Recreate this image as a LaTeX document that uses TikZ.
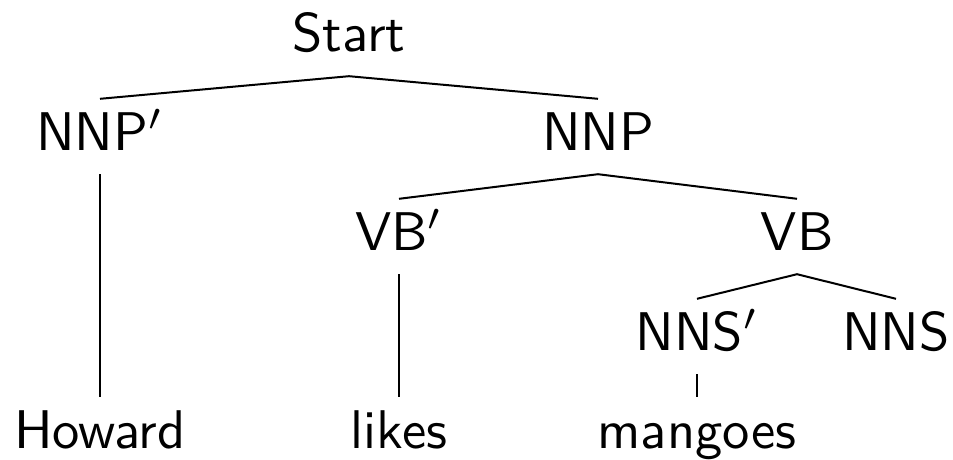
\documentclass[tikz,border=0pt]{standalone}
\usepackage{graphicx}
\usepackage{tikz}

\tikzset{
  tag/.style={font=\sffamily\fontsize{10}{12}\selectfont, anchor=base,
    inner xsep=0pt, inner ysep=13pt, text height=38pt, text depth=11pt},
  branch/.style={line width=2pt}
}
\newcommand{\taglabel}[1]{\scalebox{5.45}{#1}}

\begin{document}
\begin{tikzpicture}[x=1pt,y=-1pt]

  \useasboundingbox (0,0) rectangle (953,460);

  % Tree labels
  \foreach \name/\lbl/\x/\y in {
    start/Start/349/52,
    nnpp/NNP$'$/100/150,
    nnp/NNP/598/150,
    vbp/VB$'$/399/250,
    vb/VB/797/250,
    nnsp/NNS$'$/697/350,
    nns/NNS/896/350,
    howard/Howard/100/448,
    likes/likes/399/448,
    mangoes/mangoes/697/448
  }{
    \node[tag] (\name) at (\x,\y) {\taglabel{\lbl}};
  }

  % Branches
  \foreach \a/\b in {start/nnpp, start/nnp, nnpp/howard, nnp/vbp, nnp/vb,
                     vbp/likes, vb/nnsp, vb/nns, nnsp/mangoes}{
    \draw[branch] (\a.south) -- (\b.north);
  }

\end{tikzpicture}
\end{document}
